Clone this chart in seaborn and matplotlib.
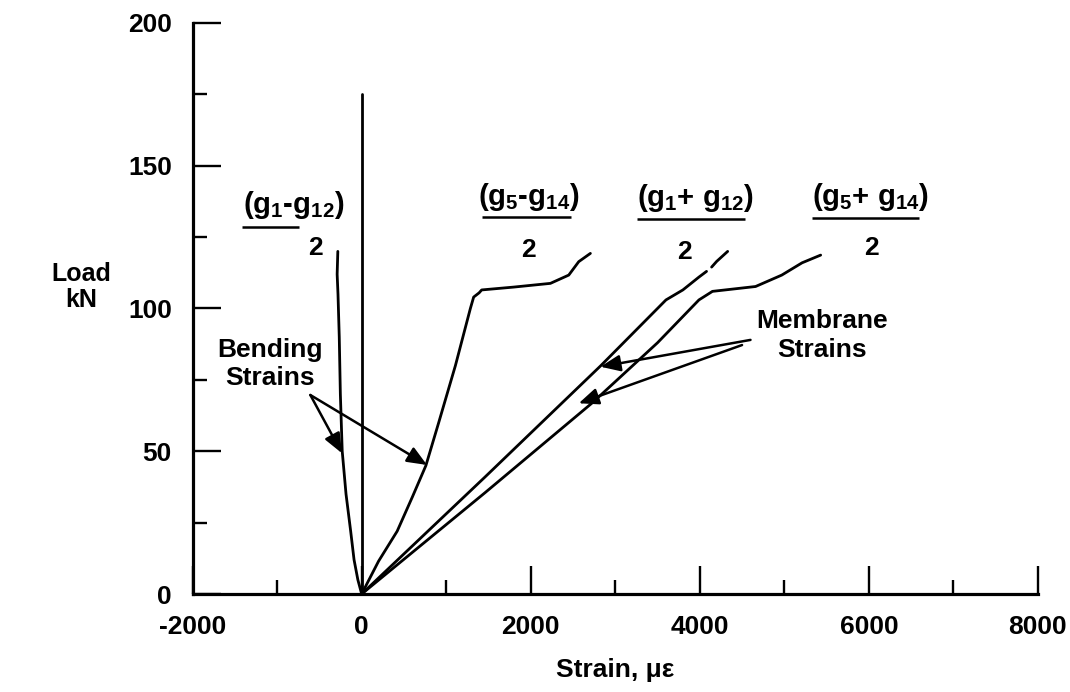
import matplotlib
matplotlib.use("Agg")
import matplotlib.pyplot as plt
import seaborn as sns

# load (kN) vs strain readings for each gauge combination
bend_1_12_x = [0, -45, -90, -130, -185, -230, -252, -265, -280, -290, -282]
bend_1_12_y = [0, 5, 12, 22, 35, 50, 70, 90, 105, 112, 120]

ref_x = [0, 0]
ref_y = [0, 175]

bend_5_14_x = [0, 200, 420, 600, 760, 911, 1109, 1286, 1325, 1390, 1420, 1800, 2233, 2450, 2568, 2706]
bend_5_14_y = [0, 11.5, 22, 34, 45, 60, 80, 100, 104, 105.5, 106.5, 107.5, 108.8, 111.7, 116.4, 119.3]

memb_1_12_x = [0, 1460, 2830, 3600, 3800, 3990, 4080]
memb_1_12_y = [0, 41, 80, 103, 106.5, 111, 113]
memb_1_12_tail_x = [4140, 4200, 4330]
memb_1_12_tail_y = [114.5, 116.5, 120]

memb_5_14_x = [0, 1460, 2730, 3500, 3990, 4150, 4660, 4970, 5210, 5430]
memb_5_14_y = [0, 35.5, 67, 88, 103, 106, 107.7, 111.7, 116, 118.7]

sns.set_style("ticks")
plt.rcParams["font.family"] = ["Liberation Sans", "DejaVu Sans"]
plt.rcParams["font.weight"] = "bold"
plt.rcParams["text.color"] = "black"
plt.rcParams["axes.labelcolor"] = "black"
plt.rcParams["axes.unicode_minus"] = False
plt.rcParams["mathtext.fontset"] = "custom"
plt.rcParams["mathtext.rm"] = "Liberation Sans:bold"
plt.rcParams["mathtext.it"] = "Liberation Sans:bold"
plt.rcParams["mathtext.bf"] = "Liberation Sans:bold"

fig = plt.figure(figsize=(10.7, 6.92), dpi=100)
ax = fig.add_axes([0.180, 0.1416, 0.790, 0.8252])

kw = dict(color="black", linewidth=2, sort=False, estimator=None, ax=ax)
sns.lineplot(x=bend_1_12_x, y=bend_1_12_y, **kw)
sns.lineplot(x=ref_x, y=ref_y, **kw)
sns.lineplot(x=bend_5_14_x, y=bend_5_14_y, **kw)
sns.lineplot(x=memb_1_12_x, y=memb_1_12_y, **kw)
sns.lineplot(x=memb_1_12_tail_x, y=memb_1_12_tail_y, **kw)
sns.lineplot(x=memb_5_14_x, y=memb_5_14_y, **kw)

ax.set_xlim(-2000, 8000)
ax.set_ylim(0, 200)
ax.set_xticks(range(-2000, 8001, 2000))
ax.set_xticks(range(-1000, 8000, 2000), minor=True)
ax.set_yticks(range(0, 201, 50))
ax.set_yticks(range(25, 200, 50), minor=True)
sns.despine(ax=ax)
for s in ("left", "bottom"):
    ax.spines[s].set_linewidth(2.3)
    ax.spines[s].set_color("black")
ax.tick_params(which="major", direction="in", length=20, width=1.7, pad=15,
               labelsize=19, colors="black")
ax.tick_params(which="minor", direction="in", length=10, width=1.7, colors="black")
for lab in ax.get_xticklabels() + ax.get_yticklabels():
    lab.set_fontweight("bold")

fig.text(0.076, 0.585, "Load\nkN", ha="center", va="center", fontsize=18,
         fontweight="bold", linespacing=1.1)
ax.set_xlabel("Strain, με", fontsize=19, fontweight="bold", labelpad=14)

# gauge labels
tk = dict(ha="center", va="center", fontsize=21, fontweight="bold")
labels = [
    ("(g$_1$-g$_{12}$)", -805, 136.3, (-1420, -746), 128.5, (-544, 121.2)),
    ("(g$_5$-g$_{14}$)", 1976, 139, (1420, 2473), 132, (1976, 120.5)),
    ("(g$_1$+ g$_{12}$)", 3953, 138.7, (3254, 4533), 131.3, (3822, 119.8)),
    ("(g$_5$+ g$_{14}$)", 6024, 139, (5325, 6592), 131.7, (6036, 121.2)),
]
for txt, tx, ty, (b0, b1), by, (nx, ny) in labels:
    ax.text(tx, ty, txt, **tk)
    ax.hlines(by, b0, b1, color="black", linewidth=1.8)
    ax.text(nx, ny, "2", ha="center", va="center", fontsize=19, fontweight="bold")

arrow = dict(arrowstyle="-|>,head_length=0.6,head_width=0.25", color="black",
             lw=1.8, mutation_scale=20, shrinkA=0, shrinkB=0)
ax.text(-1089, 80.6, "Bending\nStrains", ha="center", va="center",
        fontsize=19, fontweight="bold", linespacing=1.2)
ax.annotate("", xy=(-233, 49.3), xytext=(-607, 69.7), arrowprops=arrow)
ax.annotate("", xy=(773, 45.2), xytext=(-607, 69.7), arrowprops=arrow)

ax.text(5444, 90.5, "Membrane\nStrains", ha="center", va="center",
        fontsize=19, fontweight="bold", linespacing=1.25)
ax.annotate("", xy=(2825, 79.6), xytext=(4600, 89), arrowprops=arrow)
ax.annotate("", xy=(2568, 66.8), xytext=(4500, 87.2), arrowprops=arrow)

fig.savefig("out.png", dpi=100)
